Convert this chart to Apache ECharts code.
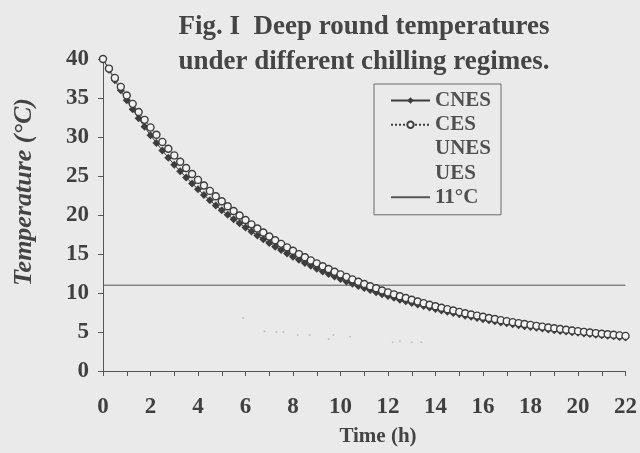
<!DOCTYPE html>
<html>
<head>
<meta charset="utf-8">
<title>Deep round temperatures</title>
<script src="https://cdn.jsdelivr.net/npm/echarts@6/dist/echarts.min.js"></script>
<style>
	html, body {margin: 0; padding: 0; background: #eaeaea;}
	#chart {width: 640px; height: 453px;}
</style>
</head>
<body>
<div id="chart"></div>
<script>
// time of each reading (h)
var hours = [0, 0.25, 0.5, 0.75, 1, 1.25, 1.5, 1.75, 2, 2.25, 2.5, 2.75, 3, 3.25, 3.5, 3.75,
	4, 4.25, 4.5, 4.75, 5, 5.25, 5.5, 5.75, 6, 6.25, 6.5, 6.75, 7, 7.25, 7.5, 7.75,
	8, 8.25, 8.5, 8.75, 9, 9.25, 9.5, 9.75, 10, 10.25, 10.5, 10.75, 11, 11.25, 11.5, 11.75,
	12, 12.25, 12.5, 12.75, 13, 13.25, 13.5, 13.75, 14, 14.25, 14.5, 14.75, 15, 15.25, 15.5, 15.75,
	16, 16.25, 16.5, 16.75, 17, 17.25, 17.5, 17.75, 18, 18.25, 18.5, 18.75, 19, 19.25, 19.5, 19.75,
	20, 20.25, 20.5, 20.75, 21, 21.25, 21.5, 21.75, 22];

var cnes = [40.0, 38.62, 37.28, 35.98, 34.72, 33.55, 32.40, 31.30, 30.23, 29.23, 28.27, 27.34, 26.44, 25.62, 24.82, 24.05,
	23.30, 22.58, 21.89, 21.21, 20.61, 20.03, 19.47, 18.93, 18.41, 17.88, 17.37, 16.88, 16.40, 15.94, 15.50, 15.07,
	14.66, 14.26, 13.86, 13.48, 13.12, 12.77, 12.43, 12.11, 11.79, 11.49, 11.19, 10.91, 10.64, 10.37, 10.11, 9.85,
	9.62, 9.38, 9.15, 8.94, 8.73, 8.52, 8.32, 8.13, 7.94, 7.76, 7.59, 7.42, 7.26, 7.09, 6.94, 6.79,
	6.65, 6.50, 6.37, 6.23, 6.11, 5.98, 5.87, 5.75, 5.65, 5.53, 5.44, 5.33, 5.24, 5.14, 5.06, 4.97,
	4.89, 4.80, 4.73, 4.65, 4.58, 4.51, 4.44, 4.37, 4.30];

var ces = [40.0, 38.77, 37.58, 36.43, 35.32, 34.25, 33.20, 32.20, 31.23, 30.28, 29.37, 28.49, 27.64, 26.82, 26.02, 25.25,
	24.50, 23.78, 23.09, 22.41, 21.76, 21.13, 20.52, 19.93, 19.36, 18.80, 18.27, 17.75, 17.25, 16.77, 16.30, 15.85,
	15.41, 14.99, 14.58, 14.18, 13.80, 13.43, 13.07, 12.73, 12.39, 12.07, 11.75, 11.45, 11.16, 10.87, 10.60, 10.33,
	10.08, 9.83, 9.59, 9.36, 9.13, 8.91, 8.70, 8.50, 8.30, 8.11, 7.93, 7.75, 7.58, 7.41, 7.25, 7.10,
	6.95, 6.80, 6.66, 6.52, 6.39, 6.26, 6.14, 6.02, 5.91, 5.79, 5.69, 5.58, 5.48, 5.38, 5.29, 5.20,
	5.11, 5.02, 4.94, 4.86, 4.78, 4.71, 4.64, 4.57, 4.50];

// the U series barely printed, only a few specks are left
var unesHours = [5.9, 6.8, 7.3, 7.6, 8.2, 8.7, 9.5, 9.7, 10.4];
var unes = [6.8, 5.1, 5.0, 5.0, 4.6, 4.6, 4.1, 4.6, 4.4];
var uesHours = [12.2, 12.5, 13.0, 13.4];
var ues = [3.7, 3.8, 3.7, 3.7];

var limitHours = [0, 22];
var limit = [11, 11];

var xTicks = {min: 0, max: 22, step: 2};
var yTicks = {min: 0, max: 40, step: 5};

function pairs(xs, ys) {
	return xs.map(function (x, i) {
		return [x, ys[i]];
	});
}

var ink = '#3d3d3d';
var serif = '"Liberation Serif", "DejaVu Serif", serif';

var chart = echarts.init(document.getElementById('chart'));

var option = {
	backgroundColor: '#eaeaea',
	animation: false,
	title: {
		text: 'Fig. I  Deep round temperatures\nunder different chilling regimes.',
		left: 359,
		top: 5,
		textAlign: 'center',
		textStyle: {
			fontFamily: serif,
			fontWeight: 'bold',
			fontSize: 27,
			lineHeight: 35,
			color: '#454545'
		}
	},
	grid: {
		left: 103,
		right: 13,
		top: 59,
		bottom: 82
	},
	legend: {
		orient: 'vertical',
		left: 374,
		top: 84,
		padding: [6, 10, 7, 16],
		borderColor: '#6a6a6a',
		borderWidth: 1,
		itemWidth: 39,
		itemHeight: 8,
		itemGap: 3.2,
		textStyle: {
			fontFamily: serif,
			fontWeight: 'bold',
			fontSize: 21,
			lineHeight: 20,
			color: '#505050'
		},
		data: [
			{name: 'CNES'},
			{name: 'CES'},
			{name: 'UNES', itemStyle: {opacity: 0}, lineStyle: {opacity: 0}},
			{name: 'UES', itemStyle: {opacity: 0}, lineStyle: {opacity: 0}},
			{name: '11°C', itemStyle: {opacity: 0}}
		]
	},
	xAxis: {
		type: 'value',
		min: xTicks.min,
		max: xTicks.max,
		interval: xTicks.step,
		axisLine: {show: true, onZero: false, lineStyle: {color: '#555', width: 1}},
		axisTick: {show: true, length: 5, lineStyle: {color: '#555'}},
		minorTick: {show: true, splitNumber: 2, length: 5, lineStyle: {color: '#555'}},
		splitLine: {show: false},
		axisLabel: {
			margin: 25,
			fontFamily: serif,
			fontWeight: 'bold',
			fontSize: 23,
			color: '#404040'
		}
	},
	yAxis: {
		type: 'value',
		min: yTicks.min,
		max: yTicks.max,
		interval: yTicks.step,
		axisLine: {show: true, lineStyle: {color: '#555', width: 1}},
		axisTick: {show: true, length: 5, lineStyle: {color: '#555'}},
		splitLine: {show: false},
		axisLabel: {
			margin: 14,
			fontFamily: serif,
			fontWeight: 'bold',
			fontSize: 23,
			color: '#404040'
		}
	},
	graphic: [
		{
			type: 'text',
			x: 24,
			y: 192,
			rotation: Math.PI / 2,
			style: {
				text: 'Temperature (°C)',
				fontFamily: serif,
				fontWeight: 'bold',
				fontStyle: 'italic',
				fontSize: 26,
				fill: '#444',
				align: 'center',
				verticalAlign: 'middle'
			}
		},
		{
			type: 'text',
			x: 378,
			y: 437,
			style: {
				text: 'Time (h)',
				fontFamily: serif,
				fontWeight: 'bold',
				fontSize: 21,
				fill: '#444',
				align: 'center',
				verticalAlign: 'middle'
			}
		}
	],
	series: [
		{
			name: 'CNES',
			type: 'line',
			data: pairs(hours, cnes),
			symbol: 'diamond',
			symbolSize: 8,
			showAllSymbol: true,
			itemStyle: {color: ink},
			lineStyle: {color: ink, width: 1}
		},
		{
			name: 'CES',
			type: 'line',
			data: pairs(hours, ces),
			symbol: 'circle',
			symbolSize: 7,
			showAllSymbol: true,
			itemStyle: {color: '#f2f2f2', borderColor: ink, borderWidth: 1.4},
			lineStyle: {color: ink, width: 1, type: 'dotted'}
		},
		{
			name: 'UNES',
			type: 'scatter',
			data: pairs(unesHours, unes),
			symbolSize: 2,
			itemStyle: {color: '#b8b8b8'}
		},
		{
			name: 'UES',
			type: 'scatter',
			data: pairs(uesHours, ues),
			symbolSize: 2,
			itemStyle: {color: '#bdbdbd'}
		},
		{
			name: '11°C',
			type: 'line',
			data: pairs(limitHours, limit),
			symbol: 'none',
			itemStyle: {color: '#555'},
			lineStyle: {color: '#555', width: 1}
		}
	]
};

chart.setOption(option);
</script>
</body>
</html>
